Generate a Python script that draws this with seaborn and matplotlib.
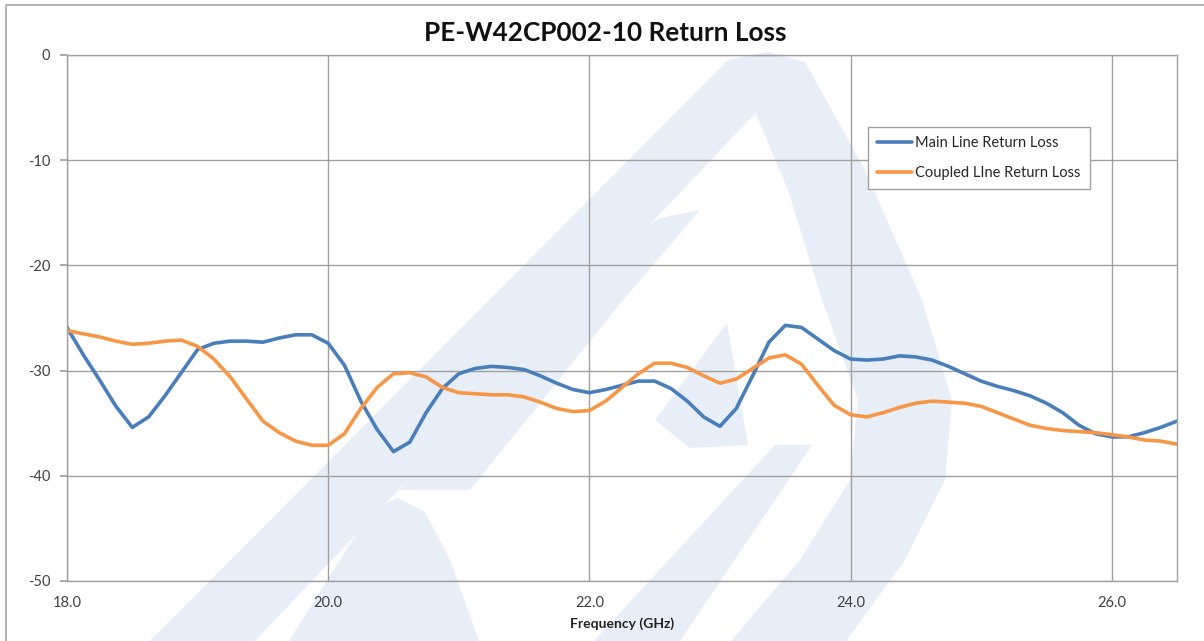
import numpy as np
import pandas as pd
import seaborn as sns
import matplotlib.pyplot as plt
from matplotlib.patches import Polygon, Rectangle

# frequency points (GHz) and return loss readings (dB)
freq = [18.0, 18.125, 18.25, 18.375, 18.5, 18.625, 18.75, 18.875,
        19.0, 19.125, 19.25, 19.375, 19.5, 19.625, 19.75, 19.875,
        20.0, 20.125, 20.25, 20.375, 20.5, 20.625, 20.75, 20.875,
        21.0, 21.125, 21.25, 21.375, 21.5, 21.625, 21.75, 21.875,
        22.0, 22.125, 22.25, 22.375, 22.5, 22.625, 22.75, 22.875,
        23.0, 23.125, 23.25, 23.375, 23.5, 23.625, 23.75, 23.875,
        24.0, 24.125, 24.25, 24.375, 24.5, 24.625, 24.75, 24.875,
        25.0, 25.125, 25.25, 25.375, 25.5, 25.625, 25.75, 25.875,
        26.0, 26.125, 26.25, 26.375, 26.5]
main_rl = [-25.9, -28.5, -30.9, -33.4, -35.4, -34.4, -32.4, -30.2,
           -28.0, -27.4, -27.2, -27.2, -27.3, -26.9, -26.6, -26.6,
           -27.4, -29.5, -32.9, -35.6, -37.7, -36.8, -34.0, -31.7,
           -30.3, -29.8, -29.6, -29.7, -29.9, -30.5, -31.2, -31.8,
           -32.1, -31.8, -31.4, -31.0, -31.0, -31.7, -32.9, -34.4,
           -35.3, -33.6, -30.5, -27.3, -25.7, -25.9, -27.0, -28.1,
           -28.9, -29.0, -28.9, -28.6, -28.7, -29.0, -29.6, -30.3,
           -31.0, -31.5, -31.9, -32.4, -33.1, -34.0, -35.2, -36.0,
           -36.3, -36.3, -35.9, -35.4, -34.8]
coupled_rl = [-26.2, -26.5, -26.8, -27.2, -27.5, -27.4, -27.2, -27.1,
              -27.7, -28.9, -30.6, -32.7, -34.8, -35.9, -36.7, -37.1,
              -37.1, -36.0, -33.6, -31.6, -30.3, -30.2, -30.6, -31.6,
              -32.1, -32.2, -32.3, -32.3, -32.5, -33.0, -33.6, -33.9,
              -33.8, -32.9, -31.6, -30.3, -29.3, -29.3, -29.7, -30.5,
              -31.2, -30.8, -29.8, -28.8, -28.5, -29.4, -31.4, -33.3,
              -34.2, -34.4, -34.0, -33.5, -33.1, -32.9, -33.0, -33.1,
              -33.4, -34.0, -34.6, -35.2, -35.5, -35.7, -35.8, -35.9,
              -36.1, -36.3, -36.6, -36.7, -37.0]
series_names = ["Main Line Return Loss", "Coupled LIne Return Loss"]
x_ticks = [18.0, 20.0, 22.0, 24.0, 26.0]
y_ticks = [0, -10, -20, -30, -40, -50]

df = pd.DataFrame({
    "freq": freq * 2,
    "rl": main_rl + coupled_rl,
    "series": [series_names[0]] * len(freq) + [series_names[1]] * len(freq),
})

sns.set_theme(style="white")
plt.rcParams['font.family'] = ['Lato', 'DejaVu Sans']
plt.rcParams['axes.unicode_minus'] = False

W, H = 1204, 641
fig = plt.figure(figsize=(W / 100, H / 100), dpi=100)
ax = fig.add_axes([67 / W, 1 - 581 / H, (1177 - 67) / W, (581 - 55) / H])
ax.set_facecolor('none')
ax.set_zorder(2)

# chart area border
fig.patches.append(Rectangle((6 / W, -0.05), 1.1, 1.05 - 5 / H, transform=fig.transFigure,
                             fill=False, edgecolor='#a6a6a6', linewidth=1.2, zorder=-1))

# faint logo watermark behind the plot (pixel coords, y down)
wm = [
    # outer left band up to the apex
    [(150, 641), (255, 641), (800, 66), (768, 52), (728, 60)],
    # right curved band
    [(768, 52), (805, 62), (865, 170), (922, 300), (952, 400), (945, 480), (905, 560),
     (846, 641), (731, 641), (800, 560), (850, 480), (858, 400), (822, 300), (788, 190),
     (748, 95)],
    # rounded arch at the bottom
    [(289, 641), (340, 560), (372, 510), (398, 498), (425, 512), (450, 560), (479, 641)],
    # inner diagonal band
    [(400, 490), (470, 490), (623, 300), (700, 210), (660, 218), (540, 300)],
    # small wedge and lower right band
    [(655, 420), (727, 323), (748, 445), (690, 448)],
    [(594, 641), (680, 641), (812, 445), (775, 445)],
]
for poly in wm:
    pts = [(px / W, 1 - py / H) for px, py in poly]
    fig.patches.append(Polygon(pts, closed=True, transform=fig.transFigure,
                               facecolor='#e7eef7', edgecolor='none', zorder=-2))

sns.lineplot(data=df, x="freq", y="rl", hue="series", hue_order=series_names,
             palette=['#4a7ebb', '#f79646'], linewidth=2.6, ax=ax, legend=True)
for ln in ax.get_lines():
    ln.set_solid_joinstyle('round')
    ln.set_solid_capstyle('round')

ax.set_xlim(18.0, 26.5)
ax.set_ylim(-50, 0)
ax.set_xticks(x_ticks)
ax.set_xticklabels([f"{t:.1f}" for t in x_ticks])
ax.set_yticks(y_ticks)
ax.set_yticklabels([str(t) for t in y_ticks])
ax.grid(True, color='#a0a0a0', linewidth=1.0)
ax.set_axisbelow(True)
for sp in ax.spines.values():
    sp.set_color('#a0a0a0')
    sp.set_linewidth(1.0)
ax.tick_params(axis='y', length=5, color='#a0a0a0', pad=7, labelsize=10.5, labelcolor='#404040', left=True)
ax.tick_params(axis='x', length=0, pad=11, labelsize=10.5, labelcolor='#404040')

ax.set_xlabel("Frequency (GHz)", fontsize=10, fontweight='bold', labelpad=5, color='#222222')
ax.set_ylabel("")
fig.suptitle("PE-W42CP002-10 Return Loss", x=605 / W, y=1 - 33 / H, va='center',
             fontsize=18.8, fontweight='bold', color='#111111')

leg = ax.legend(loc='upper left', bbox_to_anchor=((868 - 67) / 1110, (581 - 127) / 526),
                borderaxespad=0, frameon=True, fancybox=False, framealpha=1,
                edgecolor='#a0a0a0', fontsize=10.5, handlelength=2.4, handletextpad=0.2,
                borderpad=0.65, labelspacing=1.05, title=None)
leg.get_frame().set_linewidth(1.0)

fig.savefig("out.png", dpi=100)
